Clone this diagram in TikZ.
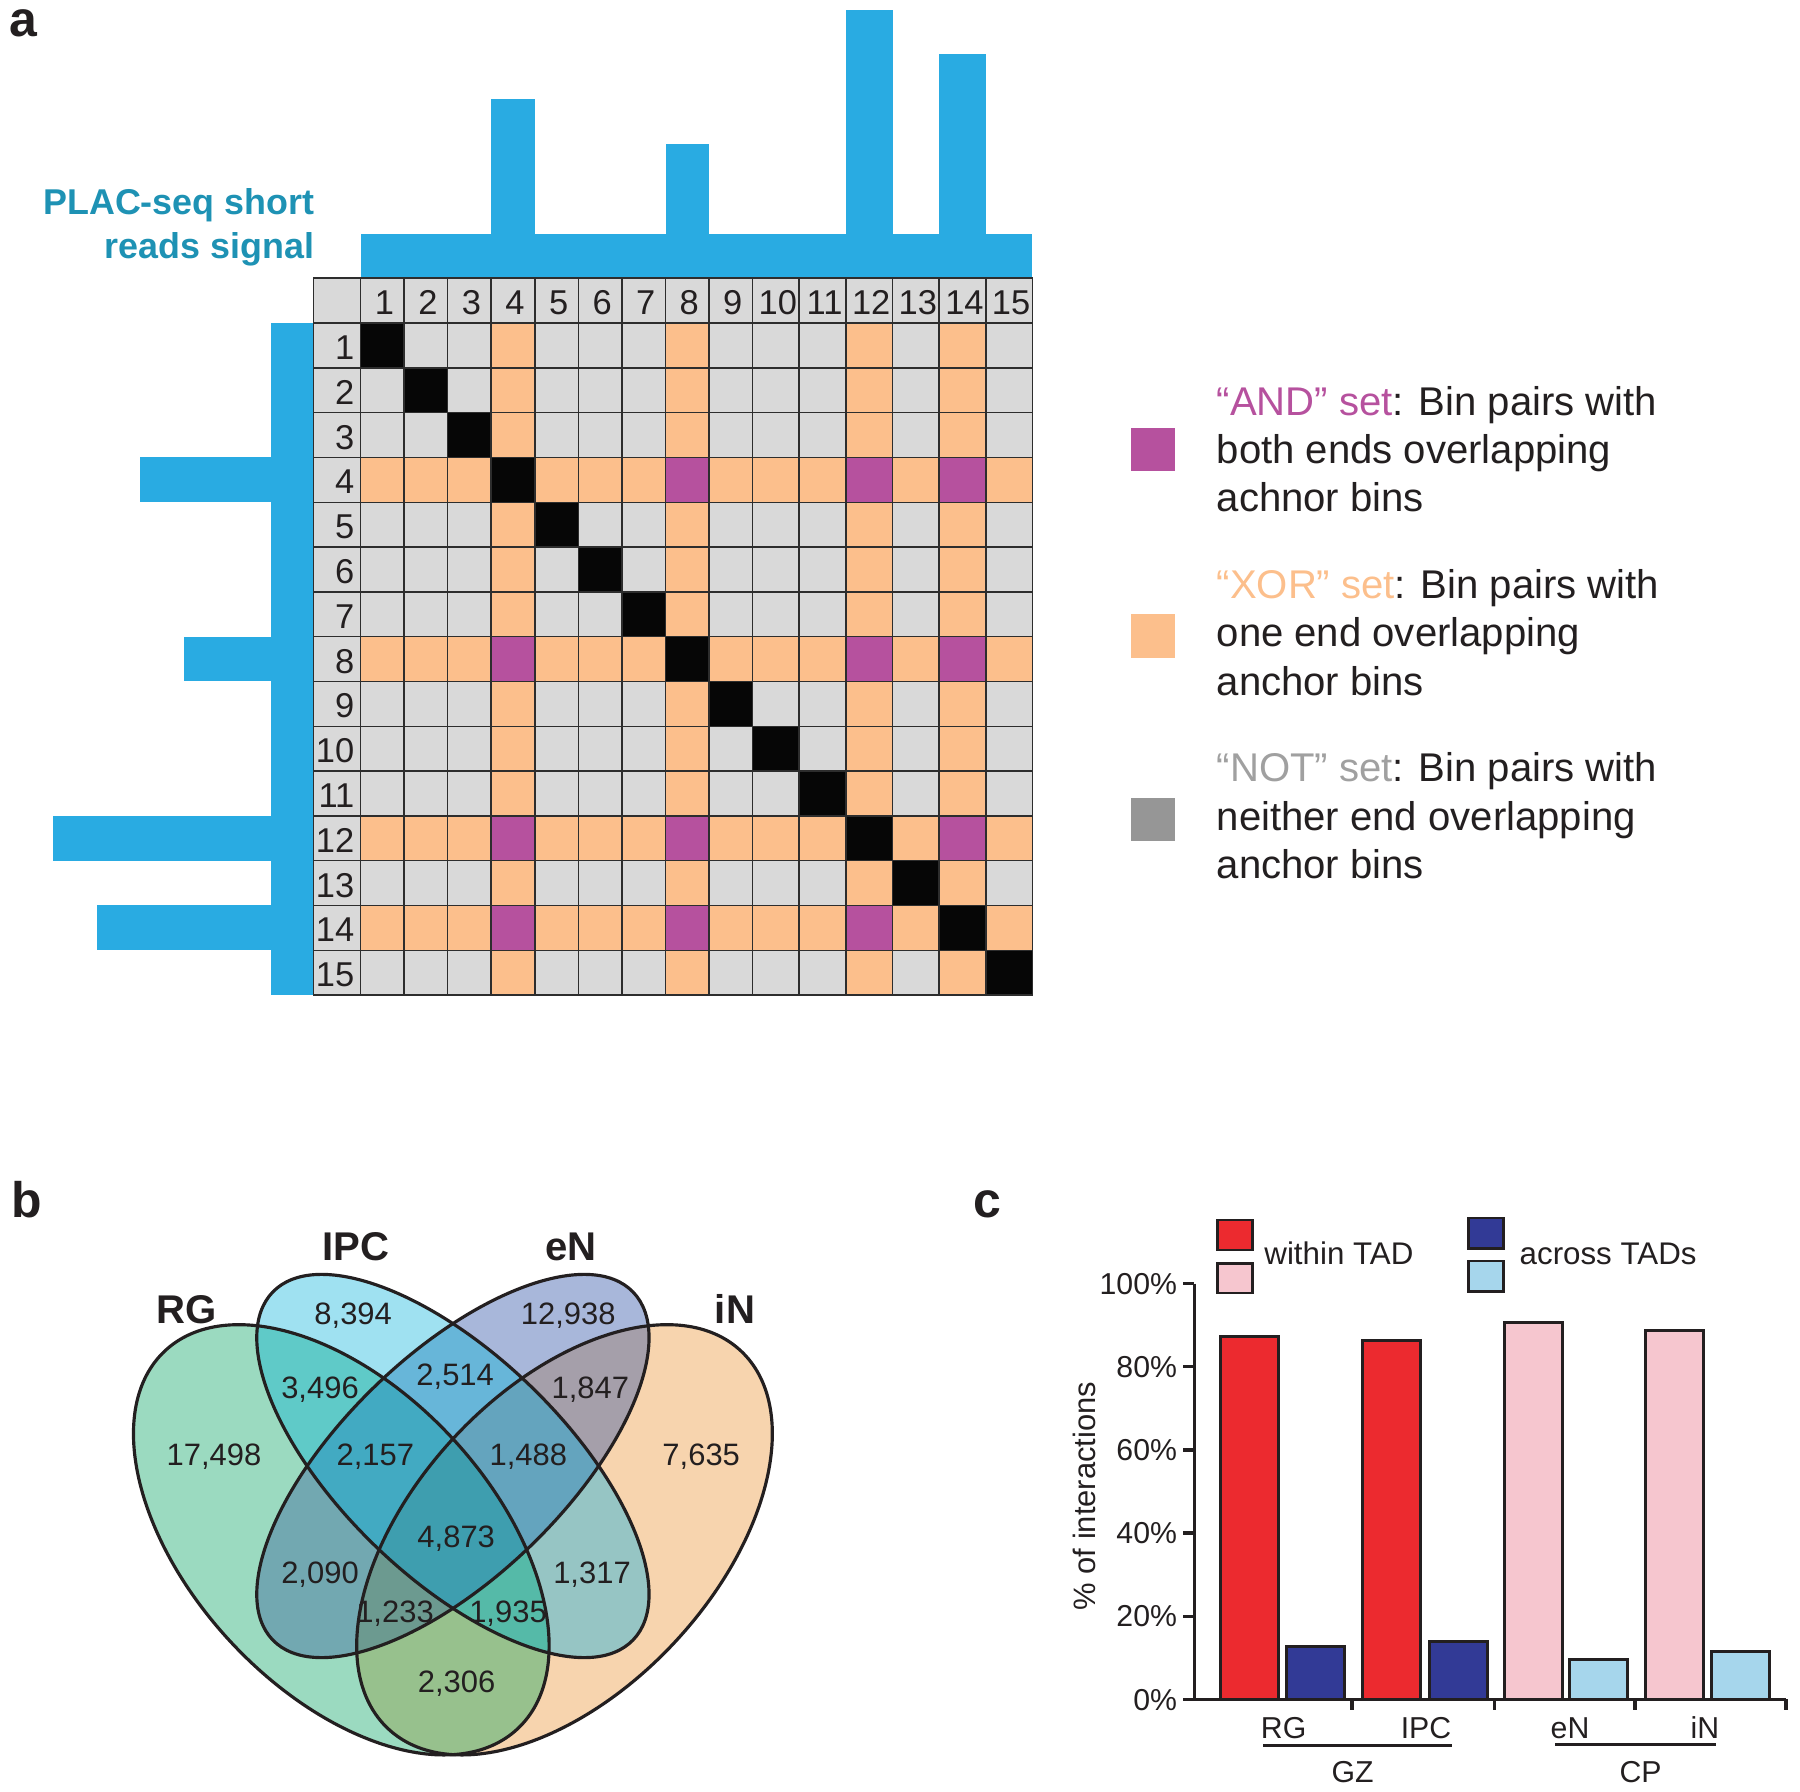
\documentclass[tikz,border=0pt]{standalone}
\usepackage{fontspec}
\setmainfont{Liberation Sans}
% colours
\definecolor{ink}{RGB}{35,31,32}
\definecolor{sigblue}{RGB}{41,171,226}
\definecolor{placblue}{RGB}{30,146,180}
\definecolor{cgray}{RGB}{217,217,217}
\definecolor{corange}{RGB}{252,191,140}
\definecolor{cpurple}{RGB}{182,81,158}
\definecolor{cblack}{RGB}{6,6,6}
\definecolor{lgray}{RGB}{150,150,150}
\definecolor{notgray}{RGB}{160,160,160}
\definecolor{gline}{RGB}{45,45,45}
\definecolor{vRG}{RGB}{155,218,192}
\definecolor{vIPC}{RGB}{159,225,241}
\definecolor{veN}{RGB}{168,183,218}
\definecolor{viN}{RGB}{247,212,174}
\definecolor{vRGIPC}{RGB}{95,202,200}
\definecolor{vIPCeN}{RGB}{103,182,217}
\definecolor{veNiN}{RGB}{165,159,170}
\definecolor{vRGeN}{RGB}{114,168,177}
\definecolor{vIPCiN}{RGB}{150,197,196}
\definecolor{vRGiN}{RGB}{151,193,141}
\definecolor{vRGIPCeN}{RGB}{66,170,194}
\definecolor{vIPCeNiN}{RGB}{100,164,190}
\definecolor{vRGeNiN}{RGB}{108,154,144}
\definecolor{vRGIPCiN}{RGB}{85,186,168}
\definecolor{vall}{RGB}{62,158,175}
\definecolor{bred}{RGB}{236,42,47}
\definecolor{bnavy}{RGB}{50,58,150}
\definecolor{bpink}{RGB}{246,198,207}
\definecolor{blblue}{RGB}{166,214,236}
% Venn ellipses
\newcommand\setRG[1]{\path[#1,rotate around={-47:(341.3,1539.8)}] (341.3,1539.8) ellipse [x radius=2.583cm, y radius=1.504cm];}
\newcommand\setIPC[1]{\path[#1,rotate around={-44:(452.9,1466)}] (452.9,1466) ellipse [x radius=2.503cm, y radius=1.114cm];}
\newcommand\seteN[1]{\path[#1,rotate around={44:(452.9,1466)}] (452.9,1466) ellipse [x radius=2.503cm, y radius=1.114cm];}
\newcommand\setiN[1]{\path[#1,rotate around={47:(564.5,1539.8)}] (564.5,1539.8) ellipse [x radius=2.583cm, y radius=1.504cm];}
\newcommand\vregion[2]{\begin{scope}#1\fill[#2] (0,1000) rectangle (1000,1792);\end{scope}}
\newcommand\cbar[5]{\filldraw[barline, fill=#5] (#2,1699.3) rectangle (#3,#4);}

\begin{document}
\begin{tikzpicture}[x=0.01cm, y=-0.01cm,
  cellbox/.style={draw=gline, line width=0.45pt},
  gridnum/.style={font=\fontsize{9.8pt}{10pt}\selectfont, text=ink, anchor=base, inner sep=0pt},
  legtxt/.style={font=\fontsize{11.4pt}{13pt}\selectfont, text=ink, anchor=base west, inner sep=0pt},
  placlbl/.style={font=\bfseries\fontsize{10.2pt}{12pt}\selectfont, text=placblue, anchor=base east, inner sep=0pt},
  panel/.style={font=\bfseries\fontsize{14.2pt}{16pt}\selectfont, text=ink, anchor=base west, inner sep=0pt},
  vnum/.style={font=\fontsize{8.8pt}{10pt}\selectfont, text=ink, anchor=base, inner sep=0pt},
  vlbl/.style={font=\bfseries\fontsize{11.4pt}{13pt}\selectfont, text=ink, anchor=base, inner sep=0pt},
  ctxt/.style={font=\fontsize{8.6pt}{10pt}\selectfont, text=ink, inner sep=0pt},
  barline/.style={draw=ink, line width=0.85pt},
  axisline/.style={draw=ink, line width=0.95pt},
]
\useasboundingbox (0,0) rectangle (1800,1792);

% ---------------- panel a ----------------
\node[panel] (pa) at (9,37) {a};
% signal bars
\fill[sigblue] (360.6,234) rectangle (1032.45,278.3);
\fill[sigblue] (491.3,99.5) rectangle (534.8,234);
\fill[sigblue] (665.5,144.5) rectangle (709.0,234);
\fill[sigblue] (845.9,10) rectangle (892.5,234);
\fill[sigblue] (939.2,54.5) rectangle (985.8,234);
\fill[sigblue] (270.7,323.1) rectangle (313.3,995.1);
\fill[sigblue] (139.5,457.5) rectangle (270.7,502.3);
\fill[sigblue] (183.5,636.7) rectangle (270.7,681.5);
\fill[sigblue] (52.5,815.9) rectangle (270.7,860.7);
\fill[sigblue] (96.5,905.5) rectangle (270.7,950.3);
\node[placlbl] (plac1) at (315,215) {PLAC-seq short};
\node[placlbl] (plac2) at (315,259) {reads signal};

% grid
\filldraw[cellbox, fill=cgray] (313.3,278.3) rectangle (360.6,323.1);
\foreach \i in {1,...,15}{
  \pgfmathsetmacro\yt{278.3+44.8*\i}
  \pgfmathsetmacro\yb{\yt+44.8}
  \filldraw[cellbox, fill=cgray] (313.3,\yt) rectangle (360.6,\yb);
  \node[gridnum, anchor=base east] (row\i) at (355,\yb-8.3) {\i};
}
\foreach \j/\aj in {1/0,2/0,3/0,4/1,5/0,6/0,7/0,8/1,9/0,10/0,11/0,12/1,13/0,14/1,15/0}{
  \pgfmathsetmacro\xl{\j<10 ? 360.6+(\j-1)*43.55 : 752.55+(\j-10)*46.65}
  \pgfmathsetmacro\xw{\j<10 ? 43.55 : 46.65}
  \pgfmathsetmacro\xr{\xl+\xw}
  \pgfmathsetmacro\xc{\xl+\xw/2+2}
  \filldraw[cellbox, fill=cgray] (\xl,278.3) rectangle (\xr,323.1);
  \node[gridnum] (col\j) at (\xc,314.8) {\j};
  \foreach \i/\ai in {1/0,2/0,3/0,4/1,5/0,6/0,7/0,8/1,9/0,10/0,11/0,12/1,13/0,14/1,15/0}{
    \pgfmathsetmacro\yt{278.3+44.8*\i}
    \pgfmathsetmacro\yb{\yt+44.8}
    \ifnum\i=\j\relax \def\cc{cblack}\else
      \ifnum\numexpr\ai+\aj\relax=2 \def\cc{cpurple}\else
        \ifnum\numexpr\ai+\aj\relax=1 \def\cc{corange}\else \def\cc{cgray}\fi
      \fi
    \fi
    \filldraw[cellbox, fill=\cc] (\xl,\yt) rectangle (\xr,\yb);
  }
}

% legend a
\fill[cpurple] (1131.4,428) rectangle (1174.9,470.7);
\fill[corange] (1131.4,614) rectangle (1174.9,658);
\fill[lgray] (1131.4,798) rectangle (1174.9,841);
\node[legtxt] (and1) at (1216,415.5) {\textcolor{cpurple}{“AND” set}: Bin pairs with};
\node[legtxt] (and2) at (1216,464) {both ends overlapping};
\node[legtxt] (and3) at (1216,512) {achnor bins};
\node[legtxt] (xor1) at (1216,598.5) {\textcolor{corange}{“XOR” set}: Bin pairs with};
\node[legtxt] (xor2) at (1216,647) {one end overlapping};
\node[legtxt] (xor3) at (1216,695.5) {anchor bins};
\node[legtxt] (not1) at (1216,782) {\textcolor{notgray}{“NOT” set}: Bin pairs with};
\node[legtxt] (not2) at (1216,830.5) {neither end overlapping};
\node[legtxt] (not3) at (1216,879) {anchor bins};

% ---------------- panel b ----------------
\node[panel] (pb) at (11,1217) {b};
\setRG{fill=vRG}
\setIPC{fill=vIPC}
\seteN{fill=veN}
\setiN{fill=viN}
\vregion{\setRG{clip}\setIPC{clip}}{vRGIPC}
\vregion{\setRG{clip}\seteN{clip}}{vRGeN}
\vregion{\setRG{clip}\setiN{clip}}{vRGiN}
\vregion{\setIPC{clip}\seteN{clip}}{vIPCeN}
\vregion{\setIPC{clip}\setiN{clip}}{vIPCiN}
\vregion{\seteN{clip}\setiN{clip}}{veNiN}
\vregion{\setRG{clip}\setIPC{clip}\seteN{clip}}{vRGIPCeN}
\vregion{\setRG{clip}\setIPC{clip}\setiN{clip}}{vRGIPCiN}
\vregion{\setRG{clip}\seteN{clip}\setiN{clip}}{vRGeNiN}
\vregion{\setIPC{clip}\seteN{clip}\setiN{clip}}{vIPCeNiN}
\vregion{\setRG{clip}\setIPC{clip}\seteN{clip}\setiN{clip}}{vall}
\setRG{draw=ink, line width=0.9pt}
\setIPC{draw=ink, line width=0.9pt}
\seteN{draw=ink, line width=0.9pt}
\setiN{draw=ink, line width=0.9pt}
\node[vlbl] (lRG) at (187,1323) {RG};
\node[vlbl] (lIPC) at (356,1260) {IPC};
\node[vlbl] (leN) at (571,1260) {eN};
\node[vlbl] (liN) at (735,1323) {iN};
\node[vnum] (n1) at (353.2,1324.8) {8,394};
\node[vnum] (n2) at (568.3,1324.8) {12,938};
\node[vnum] (n3) at (320,1398.7) {3,496};
\node[vnum] (n4) at (455.2,1385.1) {2,514};
\node[vnum] (n5) at (590.4,1398.7) {1,847};
\node[vnum] (n6) at (214,1465) {17,498};
\node[vnum] (n7) at (375.4,1465) {2,157};
\node[vnum] (n8) at (528.3,1465) {1,488};
\node[vnum] (n9) at (701.2,1465) {7,635};
\node[vnum] (n10) at (456.2,1547.1) {4,873};
\node[vnum] (n11) at (320,1583.6) {2,090};
\node[vnum] (n12) at (592,1583.6) {1,317};
\node[vnum] (n13) at (395,1622.1) {1,233};
\node[vnum] (n14) at (508,1622.1) {1,935};
\node[vnum] (n15) at (456.6,1692.5) {2,306};

% ---------------- panel c ----------------
\node[panel] (pc) at (973,1217) {c};
% legend
\filldraw[barline, fill=bred] (1217.5,1220) rectangle (1252.6,1250);
\filldraw[barline, fill=bpink] (1217.5,1263.5) rectangle (1252.6,1293);
\filldraw[barline, fill=bnavy] (1468.8,1218) rectangle (1503.9,1248.4);
\filldraw[barline, fill=blblue] (1468.8,1261) rectangle (1503.9,1291.5);
\node[ctxt, anchor=base west, font=\fontsize{8.9pt}{10pt}\selectfont] (lw) at (1263.7,1264) {within TAD};
\node[ctxt, anchor=base west, font=\fontsize{8.9pt}{10pt}\selectfont] (la) at (1519,1264) {across TADs};
% bars
\cbar{b1}{1220}{1278}{1336.1}{bred}
\cbar{b2}{1286}{1344}{1646.1}{bnavy}
\cbar{b3}{1362}{1420}{1340.2}{bred}
\cbar{b4}{1429}{1487}{1641.1}{bnavy}
\cbar{b5}{1504}{1562}{1322.8}{bpink}
\cbar{b6}{1569}{1627}{1659.4}{blblue}
\cbar{b7}{1645}{1703}{1330.7}{bpink}
\cbar{b8}{1711}{1769}{1651.1}{blblue}
% axes
\draw[axisline] (1194.3,1283.7) -- (1194.3,1699.3);
\draw[axisline] (1183,1699.3) -- (1786,1699.3);
\foreach \k/\lab in {0/0,1/20,2/40,3/60,4/80,5/100}{
  \draw[axisline] (1183,{1699.3-83.12*\k}) -- (1194.3,{1699.3-83.12*\k});
  \node[ctxt, anchor=base east] (tk\k) at (1177.7,{1699.3-83.12*\k+10.7}) {\lab\%};
}
\foreach \xx in {1352,1494.5,1635,1786}{
  \draw[axisline] (\xx,1699.3) -- (\xx,1709.5);
}
\node[ctxt, rotate=90, font=\fontsize{8.8pt}{10pt}\selectfont] (ylab) at (1084.5,1496) {\% of interactions};
\node[ctxt, anchor=base] (cRG) at (1283.6,1738) {RG};
\node[ctxt, anchor=base] (cIPC) at (1426,1738) {IPC};
\node[ctxt, anchor=base] (ceN) at (1570,1738) {eN};
\node[ctxt, anchor=base] (ciN) at (1705,1738) {iN};
\draw[axisline] (1263,1745.3) -- (1452,1745.3);
\draw[axisline] (1555,1744.8) -- (1716,1744.8);
\node[ctxt, anchor=base] (gz) at (1352.5,1782) {GZ};
\node[ctxt, anchor=base] (cp) at (1640.5,1782) {CP};
\end{tikzpicture}
\end{document}
